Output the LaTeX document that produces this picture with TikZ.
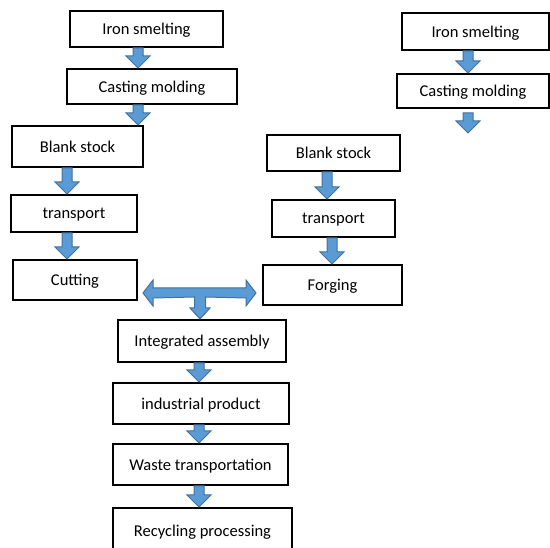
\documentclass[tikz,border=0pt]{standalone}
\usepackage{fontspec}
\setmainfont{Carlito}
\usetikzlibrary{calc}
\usetikzlibrary{math}
\definecolor{arrowblue}{RGB}{91,155,213}
\definecolor{arrowedge}{RGB}{65,113,156}

\tikzset{
  stepbox/.style={draw, line width=2pt, inner sep=0pt, text depth=0pt, font=\fontsize{16.5}{19}\selectfont},
  blockarrow/.style={fill=arrowblue, draw=arrowedge, line width=1pt, line join=miter}
}

% block arrow pointing down at x=#1, from #2 to #3
\newcommand{\flowarrow}[3]{%
  \coordinate (fa-s) at (#1,0 |- #2);
  \coordinate (fa-e) at (#1,0 |- #3);
  \filldraw[blockarrow] ($(fa-s)+(-\sw,0)$) -- ($(fa-e)+(-\sw,-\hl)$) -- ($(fa-e)+(-\hw,-\hl)$)
    -- (fa-e) -- ($(fa-e)+(\hw,-\hl)$) -- ($(fa-e)+(\sw,-\hl)$) -- ($(fa-s)+(\sw,0)$) -- cycle;
}

\begin{document}
\begin{tikzpicture}[x=1pt,y=-1pt]
\tikzmath{
\sw=5;
\hw=12;
\hl=12;
}
\clip (0,0) rectangle (550,548);

% left column
\node[stepbox, minimum width=153pt, minimum height=36pt] (iron1) at (146.5,29) {Iron smelting};
\node[stepbox, minimum width=170pt, minimum height=35pt] (cast1) at (152,86.5) {Casting molding};
\node[stepbox, minimum width=131pt, minimum height=41pt] (blank1) at (77.5,146.5) {Blank stock};
\node[stepbox, minimum width=126pt, minimum height=37pt] (trans1) at (74,213.5) {transport};
\node[stepbox, minimum width=124pt, minimum height=40pt] (cut) at (75,280) {Cutting};

% right column
\node[stepbox, minimum width=133pt, minimum height=36pt] (blank2) at (333.5,153) {Blank stock};
\node[stepbox, minimum width=123pt, minimum height=37pt] (trans2) at (333.5,218.5) {transport};
\node[stepbox, minimum width=139pt, minimum height=40pt] (forge) at (332.5,285) {Forging};

% top right
\node[stepbox, minimum width=147pt, minimum height=37pt] (iron2) at (475.5,31.5) {Iron smelting};
\node[stepbox, minimum width=152pt, minimum height=34pt] (cast2) at (473,91) {Casting molding};
\coordinate (gap2) at (468,113);
\coordinate (out2) at (468,133);

% bottom
\node[stepbox, minimum width=168pt, minimum height=42pt] (integ) at (202,341) {Integrated assembly};
\node[stepbox, minimum width=176pt, minimum height=41pt] (indus) at (201,403.5) {industrial product};
\node[stepbox, minimum width=175pt, minimum height=41pt] (waste) at (200.5,464.5) {Waste transportation};
\node[stepbox, minimum width=179pt, minimum height=46pt] (recyc) at (202.5,531) {Recycling processing};

\flowarrow{138}{iron1.south}{cast1.north}
\flowarrow{138}{cast1.south}{blank1.north}
\flowarrow{67}{blank1.south}{trans1.north}
\flowarrow{67}{trans1.south}{cut.north}
\flowarrow{327}{blank2.south}{trans2.north}
\flowarrow{332}{trans2.south}{forge.north}
\flowarrow{468}{iron2.south}{cast2.north}
\flowarrow{468}{gap2}{out2}
\flowarrow{199}{integ.south}{indus.north}
\flowarrow{199}{indus.south}{waste.north}
\flowarrow{199}{waste.south}{recyc.north}

% double arrow between Cutting and Forging, down to assembly
\coordinate (tl) at ($(cut.east |- 0,293)+(5,0)$);
\coordinate (tr) at ($(forge.west |- 0,293)+(-6,0)$);
\coordinate (tb) at (200,0 |- integ.north);
\filldraw[blockarrow] (tl) -- ($(tl)+(10,-13)$) -- ($(tl)+(10,-5)$) -- ($(tr)+(-10,-5)$)
  -- ($(tr)+(-10,-13)$) -- (tr) -- ($(tr)+(-10,13)$) -- ($(tr)+(-10,5)$)
  -- ($(tb)+(5.5,-22)$) -- ($(tb)+(5.5,-11)$) -- ($(tb)+(10,-11)$) -- (tb)
  -- ($(tb)+(-10,-11)$) -- ($(tb)+(-5.5,-11)$) -- ($(tb)+(-5.5,-22)$)
  -- ($(tl)+(10,5)$) -- ($(tl)+(10,13)$) -- cycle;
\end{tikzpicture}
\end{document}
